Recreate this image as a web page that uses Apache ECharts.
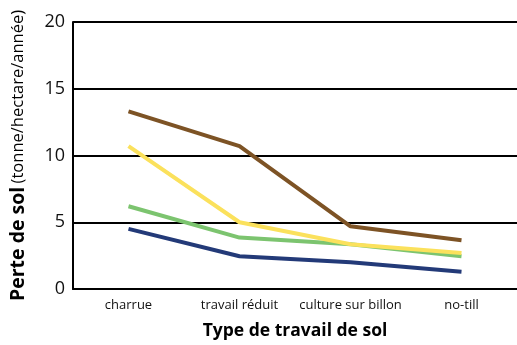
<!DOCTYPE html>
<html>
<head>
<meta charset="utf-8">
<script src="https://cdn.jsdelivr.net/npm/echarts@6/dist/echarts.min.js"></script>
<style>
html,body{margin:0;padding:0;background:#fff;}
#chart{width:517px;height:345px;}
</style>
</head>
<body>
<div id="chart"></div>
<script>
// catégories et séries
var categories = ['charrue', 'travail réduit', 'culture sur billon', 'no-till'];
var brownVals = [13.3, 10.7, 4.7, 3.65];
var yellowVals = [10.7, 5.0, 3.35, 2.7];
var greenVals = [6.2, 3.85, 3.35, 2.45];
var blueVals = [4.5, 2.45, 2.0, 1.3];
var yTicks = [0, 5, 10, 15, 20];

var colors = ['#7d5325', '#fbe15c', '#7cc46f', '#233a78'];
var seriesData = [brownVals, yellowVals, greenVals, blueVals];

var myChart = echarts.init(document.getElementById('chart'));
myChart.setOption({
	animation: false,
	grid: {left: 61, right: 0, top: 22, bottom: 53},
	xAxis: {
		type: 'category',
		data: categories,
		boundaryGap: true,
		axisLine: {lineStyle: {color: '#000', width: 2}},
		axisTick: {alignWithLabel: true, inside: true, length: 6, lineStyle: {color: '#000', width: 1.5}},
		axisLabel: {interval: 0, color: '#111', fontSize: 13, fontFamily: 'Open Sans', margin: 10},
		name: 'Type de travail de sol',
		nameLocation: 'middle',
		nameGap: 33,
		nameTextStyle: {color: '#000', fontSize: 17.5, fontWeight: 'bold', fontFamily: 'Open Sans'}
	},
	yAxis: {
		type: 'value',
		min: yTicks[0],
		max: yTicks[yTicks.length - 1],
		interval: 5,
		axisLine: {show: true, lineStyle: {color: '#000', width: 2}},
		axisTick: {show: false},
		axisLabel: {color: '#111', fontSize: 18, fontFamily: 'Open Sans', margin: 8},
		splitLine: {lineStyle: {color: '#000', width: 2}},
		name: '{b|Perte de sol} {n|(tonne/hectare/année)}',
		nameLocation: 'middle',
		nameGap: 45,
		nameTextStyle: {
			rich: {
				b: {fontSize: 19.5, fontWeight: 'bold', color: '#000', fontFamily: 'Open Sans'},
				n: {fontSize: 16.5, color: '#000', fontFamily: 'Open Sans'}
			}
		}
	},
	series: seriesData.map(function(vals, i){
		return {
			type: 'line',
			data: vals,
			symbol: 'none',
			lineStyle: {color: colors[i], width: 4},
			z: 10 - i
		};
	})
});
</script>
</body>
</html>
